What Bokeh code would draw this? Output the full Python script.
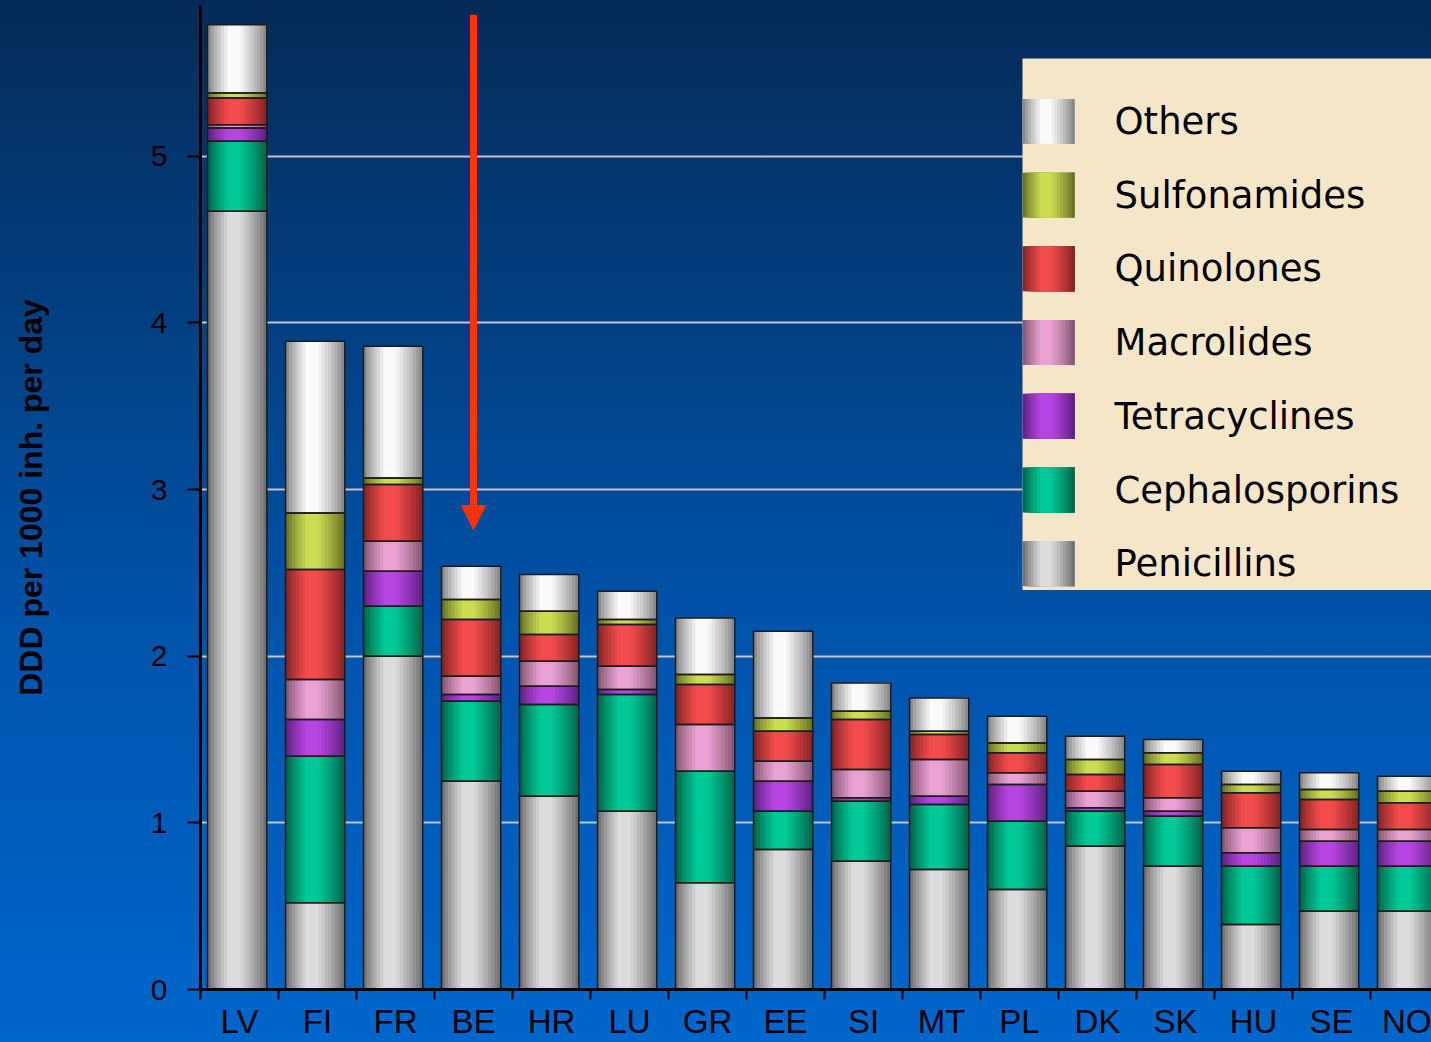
import numpy as np
from bokeh.plotting import figure
from bokeh.models import Range1d, FixedTicker, Arrow, NormalHead, ColumnDataSource
from bokeh.core.properties import value
from bokeh.embed import file_html
from bokeh.resources import INLINE

# ---- data: DDD per 1000 inhabitants per day, by antibiotic class ----
countries = ["LV", "FI", "FR", "BE", "HR", "LU", "GR", "EE",
             "SI", "MT", "PL", "DK", "SK", "HU", "SE", "NO"]

penicillins    = [4.67, 0.52, 2.00, 1.25, 1.16, 1.07, 0.64, 0.84, 0.77, 0.72, 0.60, 0.86, 0.74, 0.39, 0.47, 0.47]
cephalosporins = [0.42, 0.88, 0.30, 0.48, 0.55, 0.70, 0.67, 0.23, 0.36, 0.39, 0.41, 0.21, 0.30, 0.35, 0.27, 0.27]
tetracyclines  = [0.08, 0.22, 0.21, 0.04, 0.11, 0.03, 0.00, 0.18, 0.02, 0.05, 0.22, 0.02, 0.03, 0.08, 0.15, 0.15]
macrolides     = [0.02, 0.24, 0.18, 0.11, 0.15, 0.14, 0.28, 0.12, 0.17, 0.22, 0.07, 0.10, 0.08, 0.15, 0.07, 0.07]
quinolones     = [0.16, 0.66, 0.34, 0.34, 0.16, 0.25, 0.24, 0.18, 0.30, 0.15, 0.12, 0.10, 0.20, 0.21, 0.18, 0.16]
sulfonamides   = [0.03, 0.34, 0.04, 0.12, 0.14, 0.03, 0.06, 0.08, 0.05, 0.02, 0.06, 0.09, 0.07, 0.05, 0.06, 0.07]
others         = [0.41, 1.03, 0.79, 0.20, 0.22, 0.17, 0.34, 0.52, 0.17, 0.20, 0.16, 0.14, 0.08, 0.08, 0.10, 0.09]

series_names = ["Penicillins", "Cephalosporins", "Tetracyclines", "Macrolides",
                "Quinolones", "Sulfonamides", "Others"]
series_values = [penicillins, cephalosporins, tetracyclines, macrolides,
                 quinolones, sulfonamides, others]

# highlight arrow (annotation, in axis units)
highlight = "BE"
arrow_top, arrow_tip = 5.85, 2.76

y_ticks = [0, 1, 2, 3, 4, 5]

# ---- styling ----
# (peak colour in the middle of the cylinder, colour at its edges)
shades = {
    "Penicillins":    ((220, 220, 220), (100, 100, 100)),
    "Cephalosporins": ((0, 200, 150),   (0, 92, 66)),
    "Tetracyclines":  ((182, 70, 226),  (86, 30, 120)),
    "Macrolides":     ((234, 162, 210), (122, 78, 104)),
    "Quinolones":     ((242, 76, 76),   (122, 32, 32)),
    "Sulfonamides":   ((202, 222, 82),  (92, 102, 30)),
    "Others":         ((250, 250, 250), (122, 122, 122)),
}
N_STRIPS = 18
BAR_W = 0.76
BAR_SHIFT = -0.03

W, H = 1431, 1042
LEFT, RIGHT, TOP, BOTTOM = 200, 0, 5, 52
CAT_PX = 78.0
frame_w = W - LEFT - RIGHT
frame_h = H - TOP - BOTTOM
x_max = frame_w / CAT_PX
y_max = 5.905


def profile(t):
    """Brightness across a cylinder: 0 at the edges, 1 at the highlight."""
    if t < 0.36:
        s = t / 0.36
    elif t < 0.54:
        s = 1.0
    else:
        s = 1.0 - (t - 0.54) / 0.46
    return max(0.0, min(1.0, s)) ** 0.8


def strip_colors(name):
    peak, edge = shades[name]
    out = []
    for k in range(N_STRIPS):
        s = profile((k + 0.5) / N_STRIPS)
        c = [int(round(e + s * (p - e))) for p, e in zip(peak, edge)]
        out.append("#%02x%02x%02x" % tuple(c))
    return out


p = figure(width=W, height=H, output_backend="svg", toolbar_location=None,
           x_range=Range1d(0, x_max), y_range=Range1d(0, y_max),
           min_border_left=LEFT, min_border_right=RIGHT,
           min_border_top=TOP, min_border_bottom=BOTTOM)
p.border_fill_color = None
p.background_fill_color = None
p.outline_line_color = None
p.styles = {"background-image":
            "linear-gradient(to bottom, #052a56 0%, #033f80 30%, #0053aa 60%, #0066cc 100%)"}

# ---- grid ----
p.xgrid.visible = False
p.ygrid.ticker = FixedTicker(ticks=y_ticks[1:])
p.ygrid.grid_line_color = "#c4c4cc"
p.ygrid.grid_line_width = 2

# ---- stacked cylinders ----
n = len(countries)
centers = np.arange(n) + 0.5 + BAR_SHIFT
lefts = centers - BAR_W / 2
rights = centers + BAR_W / 2
base = np.zeros(n)
outline = dict(left=[], right=[], bottom=[], top=[])
for name, vals in zip(series_names, series_values):
    vals = np.asarray(vals, dtype=float)
    tops = base + vals
    cols = strip_colors(name)
    src = dict(left=[], right=[], bottom=[], top=[], color=[])
    for k in range(N_STRIPS):
        for i in range(n):
            if vals[i] <= 0:
                continue
            src["left"].append(lefts[i] + k * BAR_W / N_STRIPS)
            src["right"].append(rights[i])
            src["bottom"].append(base[i])
            src["top"].append(tops[i])
            src["color"].append(cols[k])
    p.quad(left="left", right="right", bottom="bottom", top="top",
           fill_color="color", line_color=None, source=ColumnDataSource(src))
    for i in range(n):
        if vals[i] > 0:
            outline["left"].append(lefts[i])
            outline["right"].append(rights[i])
            outline["bottom"].append(base[i])
            outline["top"].append(tops[i])
    base = tops

p.quad(left="left", right="right", bottom="bottom", top="top", source=ColumnDataSource(outline),
       fill_color=None, line_color="#1c1c1c", line_width=1.5)

# ---- axes ----
yax = p.yaxis[0]
yax.ticker = FixedTicker(ticks=y_ticks, minor_ticks=[])
yax.axis_line_width = 3
yax.axis_line_color = "black"
yax.major_tick_in = 0
yax.major_tick_out = 13
yax.major_tick_line_width = 2
yax.major_tick_line_color = "black"
yax.minor_tick_line_color = None
yax.major_label_text_font = "Liberation Sans"
yax.major_label_text_font_size = "30px"
yax.major_label_text_color = "black"
yax.major_label_standoff = 20
yax.axis_label = "DDD per 1000 inh. per day"
yax.axis_label_text_font = "Liberation Sans"
yax.axis_label_text_font_style = "bold"
yax.axis_label_text_font_size = "32px"
yax.axis_label_text_color = "black"
yax.axis_label_standoff = 99

xax = p.xaxis[0]
xax.ticker = FixedTicker(ticks=list(np.arange(n) + 0.5), minor_ticks=list(range(n + 1)))
xax.major_label_overrides = {float(i + 0.5): c for i, c in enumerate(countries)}
xax.axis_line_width = 3
xax.axis_line_color = "black"
xax.major_tick_in = 0
xax.major_tick_out = 0
xax.minor_tick_in = 0
xax.minor_tick_out = 10
xax.minor_tick_line_width = 2
xax.minor_tick_line_color = "black"
xax.major_label_text_font = "Liberation Sans"
xax.major_label_text_font_size = "33px"
xax.major_label_text_color = "black"
xax.major_label_standoff = 3

# ---- highlight arrow ----
xa = countries.index(highlight) + 0.5
p.add_layout(Arrow(x_start=xa, y_start=arrow_top, x_end=xa, y_end=arrow_tip,
                   line_color="#ff3300", line_width=7,
                   end=NormalHead(size=24, fill_color="#ff3300", line_color="#ff3300", line_width=1)))

# ---- legend panel (laid out in pixels, mapped onto the axes) ----
def px_x(px):
    return (px - LEFT) / frame_w * x_max


def px_y(py):
    return (TOP + frame_h - py) / frame_h * y_max


leg_left, leg_top, leg_bottom = 1022, 58, 590
p.quad(left=[px_x(leg_left)], right=[x_max], top=[px_y(leg_top)], bottom=[px_y(leg_bottom)],
       fill_color="#f4e6c9", line_color=None)

sw_w, sw_h, row0, row_step = 52, 45, 121, 73.8
legend_order = list(reversed(series_names))
sw = dict(left=[], right=[], bottom=[], top=[], color=[])
lab = dict(x=[], y=[], text=[])
for r, name in enumerate(legend_order):
    cy = row0 + r * row_step
    cols = strip_colors(name)
    for k in range(N_STRIPS):
        sw["left"].append(px_x(leg_left + k * sw_w / N_STRIPS))
        sw["right"].append(px_x(leg_left + sw_w))
        sw["top"].append(px_y(cy - sw_h / 2))
        sw["bottom"].append(px_y(cy + sw_h / 2))
        sw["color"].append(cols[k])
    lab["x"].append(px_x(1114))
    lab["y"].append(px_y(cy))
    lab["text"].append(name)

p.quad(left="left", right="right", bottom="bottom", top="top", fill_color="color",
       line_color=None, source=ColumnDataSource(sw))
p.text(x="x", y="y", text="text", source=ColumnDataSource(lab),
       text_font=value("DejaVu Sans"), text_font_size=value("37px"),
       text_color="black", text_align="left", text_baseline="middle")

open("out.html", "w").write(file_html(p, INLINE))
